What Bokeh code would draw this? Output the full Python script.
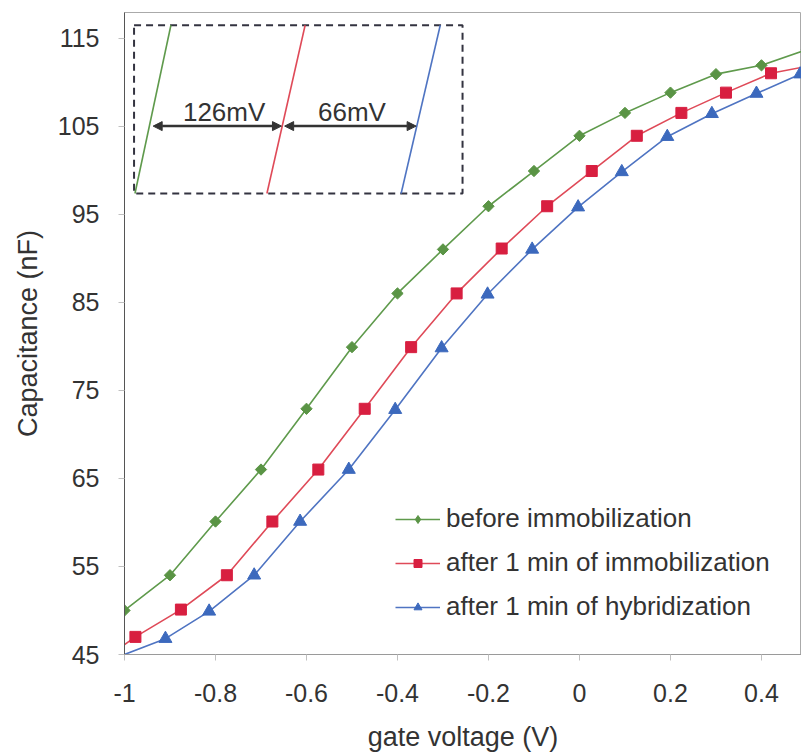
import numpy as np
from bokeh.plotting import figure
from bokeh.models import (Range1d, FixedTicker, CustomJSTickFormatter, Legend, LegendItem,
                          Arrow, NormalHead, Label)
from bokeh.embed import file_html
from bokeh.resources import INLINE

# ---------------- data ----------------
green_x = [-1.0, -0.9, -0.8, -0.7, -0.6, -0.5, -0.4, -0.3, -0.2, -0.1, 0.0, 0.1, 0.2, 0.3, 0.4, 0.5]
green_y = [50.0, 54.0, 60.1, 66.0, 72.9, 79.9, 86.0, 91.0, 95.9, 99.9, 103.9, 106.5, 108.8, 110.9, 111.9, 113.7]

red_x = [-1.075, -0.976, -0.876, -0.775, -0.675, -0.574, -0.472, -0.370, -0.270, -0.171, -0.071,
         0.027, 0.126, 0.224, 0.322, 0.421, 0.522]
red_y = [43.4, 47.0, 50.1, 54.0, 60.1, 66.0, 72.9, 79.9, 86.0, 91.1, 95.9, 99.9, 103.9, 106.5,
         108.8, 111.0, 112.0]

blue_x = [-1.01, -0.910, -0.814, -0.715, -0.614, -0.507, -0.405, -0.303, -0.202, -0.104, -0.003,
          0.093, 0.193, 0.291, 0.389, 0.485]
blue_y = [44.8, 46.8, 49.9, 54.0, 60.1, 66.0, 72.8, 79.8, 85.9, 91.0, 95.8, 99.8, 103.8, 106.4,
          108.7, 110.9]

series_names = ["before immobilization", "after 1 min of immobilization",
                "after 1 min of hybridization"]

x_ticks = [-1.0, -0.8, -0.6, -0.4, -0.2, 0.0, 0.2, 0.4]
y_ticks = [45, 55, 65, 75, 85, 95, 105, 115]

# inset schematic (threshold shifts)
shift_labels = ["126mV", "66mV"]
inset_box = dict(left=-0.979, right=-0.257, bottom=97.35, top=116.45)
inset_line_bottom_x = [-0.977, -0.687, -0.392]
inset_line_top_x = [-0.898, -0.603, -0.306]
arrow_y = 105.0
arrow_x = [(-0.937, -0.655), (-0.648, -0.359)]
label_x = [-0.781, -0.500]
label_y = 106.6

FONT = "Liberation Sans"
TXT = "#333333"

p = figure(width=801, height=754, output_backend="svg", toolbar_location=None,
           x_range=Range1d(-1.0, 0.488), y_range=Range1d(45, 117.9),
           min_border_left=124, min_border_right=0, min_border_top=12, min_border_bottom=99)

p.background_fill_color = "white"
p.border_fill_color = "white"
p.outline_line_color = "#aaaaaa"
p.xgrid.visible = False
p.ygrid.visible = False

# axes
p.xaxis.ticker = FixedTicker(ticks=x_ticks)
p.yaxis.ticker = FixedTicker(ticks=y_ticks)
p.xaxis.formatter = CustomJSTickFormatter(code="return String(Math.round(tick*10)/10);")
p.xaxis.axis_label = "gate voltage (V)"
p.yaxis.axis_label = "Capacitance (nF)"
for ax in (p.xaxis[0], p.yaxis[0]):
    ax.axis_label_text_font = FONT
    ax.axis_label_text_font_size = "27px"
    ax.axis_label_text_font_style = "normal"
    ax.axis_label_text_color = TXT
    ax.major_label_text_font = FONT
    ax.major_label_text_font_size = "25px"
    ax.major_label_text_color = TXT
    ax.major_tick_in = 0
    ax.major_tick_out = 6
    ax.major_tick_line_color = "#c0c0c0"
    ax.minor_tick_line_color = None
p.yaxis.axis_label_standoff = 12
p.xaxis.axis_label_standoff = 17
p.yaxis.axis_line_color = "#555555"
p.xaxis.axis_line_color = "#9a9a9a"
p.yaxis.major_label_standoff = 19
p.xaxis.major_label_standoff = 23

line_colors = ["#5f9a4c", "#df4a58", "#4f74c2"]
mark_colors = ["#5a9445", "#d81f40", "#3c69bd"]
markers = ["square", "square", "triangle"]
angles = [np.pi / 4, 0.0, 0.0]
sizes = [8, 11, 13]
legend_markers = ["diamond", "square", "triangle"]
legend_sizes = [13, 10, 12]

items = []
for name, xs, ys, lc, mc, mk, ang, sz, lmk, lsz in zip(
        series_names, [green_x, red_x, blue_x], [green_y, red_y, blue_y], line_colors,
        mark_colors, markers, angles, sizes, legend_markers, legend_sizes):
    lr = p.line(xs, ys, line_color=lc, line_width=1.6)
    mx = [x for x in xs if x >= -1.0]
    my = [y for x, y in zip(xs, ys) if x >= -1.0]
    p.scatter(mx, my, marker=mk, angle=ang, size=sz, fill_color=mc, line_color=mc)
    # hidden twin renderer used only to draw the legend key symbol
    lg = p.scatter(mx, my, marker=lmk, size=lsz, fill_color=mc, line_color=mc, visible=False)
    items.append(LegendItem(label=name, renderers=[lr, lg]))

legend = Legend(items=items, location=(271, 32), orientation="vertical",
                glyph_width=45, glyph_height=20, label_standoff=6, spacing=13,
                padding=0, margin=0, border_line_color=None, background_fill_alpha=0,
                label_text_font=FONT, label_text_font_size="26px", label_text_color=TXT)
p.add_layout(legend, "center")

# inset schematic
p.quad(left=[inset_box["left"]], right=[inset_box["right"]], bottom=[inset_box["bottom"]],
       top=[inset_box["top"]], fill_alpha=0, line_color="#333340", line_width=2,
       line_dash="7 5")
for bx, tx, lc in zip(inset_line_bottom_x, inset_line_top_x, line_colors):
    p.line([bx, tx], [inset_box["bottom"], inset_box["top"]], line_color=lc, line_width=1.6)
for (xa, xb) in arrow_x:
    p.add_layout(Arrow(start=NormalHead(size=9, fill_color="#333333", line_color="#333333"),
                       end=NormalHead(size=9, fill_color="#333333", line_color="#333333"),
                       x_start=xa, y_start=arrow_y, x_end=xb, y_end=arrow_y,
                       line_color="#333333", line_width=2.5))
for lx, txt in zip(label_x, shift_labels):
    p.add_layout(Label(x=lx, y=label_y, text=txt, text_align="center", text_baseline="middle",
                       text_font=FONT, text_font_size="26px", text_color=TXT))

open("out.html", "w").write(file_html(p, INLINE))
